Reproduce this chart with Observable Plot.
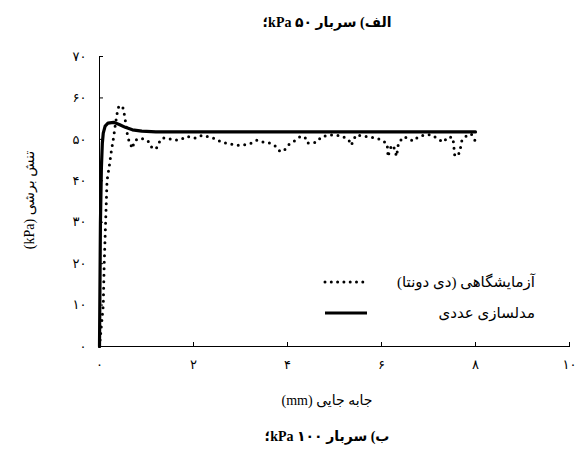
<!DOCTYPE html>
<html><head><meta charset="utf-8">
<script src="https://cdn.jsdelivr.net/npm/d3@7"></script>
<script src="https://cdn.jsdelivr.net/npm/@observablehq/plot@0.6"></script>
<style>
body{margin:0;background:#fff;width:580px;height:450px;position:relative;overflow:hidden;font-family:"Liberation Serif","DejaVu Sans",serif;color:#000;}
.t{position:absolute;left:217px;width:220px;text-align:center;font-weight:bold;font-size:14px;white-space:nowrap;line-height:18px;}
.lab{position:absolute;text-align:center;font-size:14px;white-space:nowrap;line-height:18px;}
.row{position:absolute;left:323px;width:212px;display:flex;justify-content:space-between;align-items:center;font-size:15px;direction:ltr;line-height:18px;}
</style></head><body>
<div id="title" class="t" style="top:14px" dir="rtl"></div>
<div id="chart" style="position:absolute;top:40px;left:0"></div>
<div id="xlab" class="lab" style="left:227px;width:200px;top:392px" dir="rtl"></div>
<div id="ylab" class="lab" style="left:-70px;width:200px;top:191px;transform:rotate(-90deg)" dir="rtl"></div>
<div id="caption" class="t" style="top:428px" dir="rtl"></div>
<div id="legend"></div>
<script>
const titleText = "الف) سربار kPa ۵۰؛";
const captionText = "ب) سربار kPa ۱۰۰؛";
const xLabel = "جابه جایی (mm)";
const yLabel = "تنش برشی (kPa)";
const seriesNames = ["آزمایشگاهی (دی دونتا)", "مدلسازی عددی"];
const xTicks = [0, 2, 4, 6, 8, 10];
const yTicks = [0, 10, 20, 30, 40, 50, 60, 70];

// numerical model (solid)
const numX = [0, 0.02, 0.04, 0.06, 0.08, 0.12, 0.18, 0.3, 0.42, 0.55, 0.7, 0.9, 1.2, 2, 3, 4, 5, 6, 7, 8];
const numY = [0, 30, 43, 49, 51.5, 53.2, 53.9, 54.1, 53.6, 52.9, 52.3, 52.0, 51.8, 51.8, 51.8, 51.8, 51.8, 51.8, 51.8, 51.8];

// laboratory (dotted)
const expX = [0, 0.04, 0.08, 0.1, 0.13, 0.16, 0.21, 0.25, 0.3, 0.34, 0.38, 0.41, 0.49, 0.52, 0.56, 0.59, 0.63, 0.66, 0.69, 0.76, 0.87, 1.01, 1.08, 1.12, 1.21, 1.26, 1.33, 1.44, 1.58, 1.72, 1.86, 2.04, 2.18, 2.32, 2.46, 2.6, 2.74, 2.89, 3.06, 3.21, 3.35, 3.49, 3.63, 3.77, 3.84, 3.93, 4.01, 4.12, 4.26, 4.37, 4.42, 4.5, 4.62, 4.72, 4.87, 5.01, 5.17, 5.3, 5.36, 5.4, 5.47, 5.61, 5.75, 5.93, 6.04, 6.12, 6.14, 6.18, 6.25, 6.32, 6.36, 6.46, 6.55, 6.67, 6.78, 6.92, 7.06, 7.18, 7.31, 7.42, 7.52, 7.56, 7.66, 7.71, 7.81, 7.91, 8.0];
const expY = [0, 5, 10, 20, 30, 40, 43.7, 47, 50.5, 53.8, 56.6, 58, 58, 56.6, 53.8, 51.4, 49.5, 49.0, 47.8, 49.8, 50.3, 49.8, 49.0, 47.8, 47.8, 49.1, 50.3, 50.3, 49.8, 49.9, 50.7, 50.3, 51.0, 50.6, 50.2, 49.3, 49.0, 48.6, 48.6, 49.0, 49.8, 49.3, 49.1, 48.2, 47.1, 47.3, 48.6, 49.4, 50.6, 50.6, 49.1, 49.1, 49.3, 50.6, 51.0, 51.1, 50.7, 49.9, 48.6, 49.9, 51.1, 50.8, 50.6, 50.2, 49.5, 49.0, 45.8, 47.8, 48.6, 45.9, 49.0, 50.6, 50.4, 49.6, 50.6, 51.1, 51.1, 50.3, 49.3, 50.6, 50.4, 45.9, 46.7, 49.7, 50.9, 51.3, 49.5];

const num = numX.map((x, i) => ({x, y: numY[i]}));
const exp = expX.map((x, i) => ({x, y: expY[i]}));
const fa = d => String(d).replace(/\d/g, c => "۰۱۲۳۴۵۶۷۸۹"[c]);

document.getElementById("title").textContent = titleText;
document.getElementById("caption").textContent = captionText;
document.getElementById("xlab").textContent = xLabel;
document.getElementById("ylab").textContent = yLabel;

const chart = Plot.plot({
  width: 580, height: 340,
  marginLeft: 99, marginRight: 11, marginTop: 16, marginBottom: 34,
  style: {fontFamily: '"Liberation Serif","DejaVu Sans",serif', fontSize: "13px", color: "#000", background: "transparent"},
  x: {domain: [0, 10], ticks: xTicks, tickFormat: fa, label: null, tickSize: -4, tickPadding: 17, line: true},
  y: {domain: [0, 70], ticks: yTicks, tickFormat: fa, label: null, tickSize: -4, tickPadding: 17, line: true},
  marks: [
    Plot.line(num, {x: "x", y: "y", stroke: "#000", strokeWidth: 3.2}),
    Plot.line(exp, {x: "x", y: "y", stroke: "#000", strokeWidth: 3, strokeDasharray: "0,6.5", strokeLinecap: "round", strokeLinejoin: "round"})
  ]
});
document.getElementById("chart").append(chart);

const legend = document.getElementById("legend");
const rows = [
  {name: seriesNames[0], top: 273, dash: "0,6.3", w: 3},
  {name: seriesNames[1], top: 304, dash: null, w: 3.2}
];
rows.forEach(r => {
  const div = document.createElement("div");
  div.className = "row";
  div.style.top = r.top + "px";
  const ns = "http://www.w3.org/2000/svg";
  const svg = document.createElementNS(ns, "svg");
  svg.setAttribute("width", 46); svg.setAttribute("height", 10);
  const ln = document.createElementNS(ns, "line");
  ln.setAttribute("x1", 2); ln.setAttribute("x2", 44); ln.setAttribute("y1", 5); ln.setAttribute("y2", 5);
  ln.setAttribute("stroke", "#000"); ln.setAttribute("stroke-width", r.w);
  if (r.dash) { ln.setAttribute("stroke-dasharray", r.dash); ln.setAttribute("stroke-linecap", "round"); }
  svg.append(ln);
  const span = document.createElement("span");
  span.dir = "rtl";
  span.textContent = r.name;
  div.append(svg, span);
  legend.append(div);
});
</script>
</body></html>
